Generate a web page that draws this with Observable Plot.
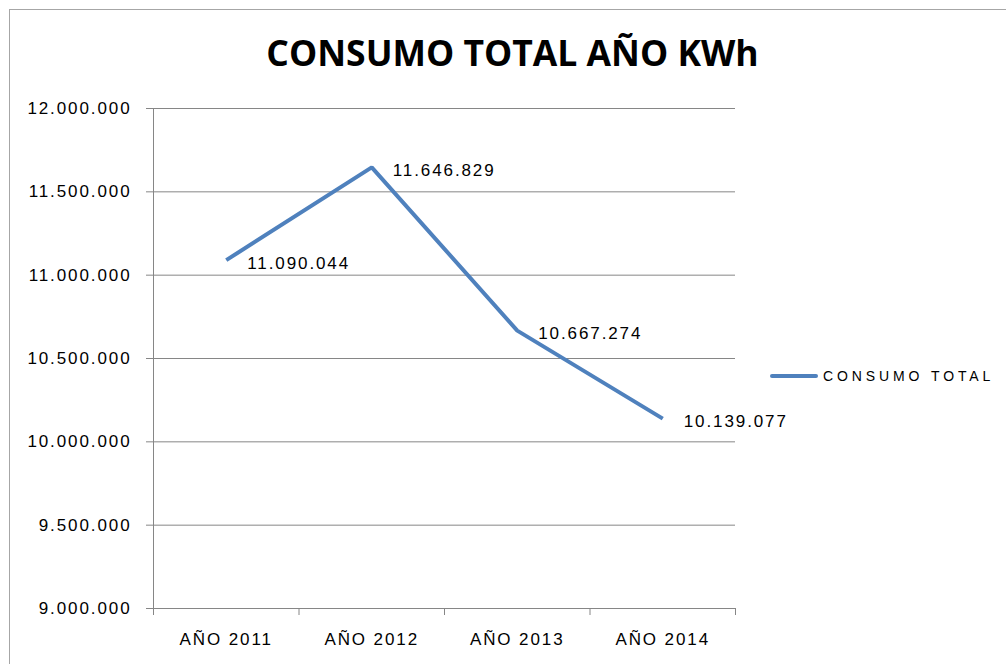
<!DOCTYPE html>
<html>
<head>
<meta charset="utf-8">
<script src="https://cdn.jsdelivr.net/npm/d3@7"></script>
<script src="https://cdn.jsdelivr.net/npm/@observablehq/plot@0.6"></script>
<style>
  html, body { margin: 0; padding: 0; background: #fff; }
  #wrap { position: relative; width: 1006px; height: 664px; overflow: hidden; background: #fff; }
  #frame { position: absolute; left: 9px; top: 9px; width: 1100px; height: 700px; border-left: 1px solid #a6a6a6; border-top: 1px solid #a6a6a6; }
  #title { position: absolute; left: 0; top: 27px; width: 1025px; text-align: center; font-family: "Open Sans", sans-serif; font-weight: 700; font-size: 35.5px; line-height: 50px; color: #000; }
  #chart { position: absolute; left: 0; top: 0; }
  #legend { position: absolute; left: 770px; top: 364px; height: 24px; display: flex; align-items: center; }
  #legend .swatch { width: 48px; height: 4px; background: #4F81BD; border-radius: 2px; margin-right: 5px; }
  #legend .lab { font-family: "Liberation Sans", Arial, sans-serif; font-size: 14px; letter-spacing: 3.9px; color: #000; }
</style>
</head>
<body>
<div id="wrap">
  <div id="frame"></div>
  <div id="chart"></div>
  <div id="title">CONSUMO TOTAL AÑO KWh</div>
  <div id="legend"><div class="swatch"></div><div class="lab" id="legendLabel"></div></div>
</div>
<script>
const categories = ["AÑO 2011", "AÑO 2012", "AÑO 2013", "AÑO 2014"];
const values = [11090044, 11646829, 10667274, 10139077];
const seriesName = "CONSUMO TOTAL";
const yTicks = [9000000, 9500000, 10000000, 10500000, 11000000, 11500000, 12000000];

const locale = d3.formatLocale({decimal: ",", thousands: ".", grouping: [3], currency: ["", ""]});
const fmt = locale.format(",d");

const data = categories.map((c, i) => ({i, category: c, value: values[i]}));
const boundaries = d3.range(categories.length + 1);
const centers = categories.map((c, i) => i + 0.5);

const chart = Plot.plot({
  width: 1006,
  height: 664,
  marginTop: 108,
  marginBottom: 56,
  marginLeft: 153,
  marginRight: 271,
  style: {fontFamily: "'Liberation Sans', Arial, sans-serif", fontSize: "17px", letterSpacing: "1.9px", color: "#000", background: "transparent"},
  x: {type: "linear", domain: [0, categories.length]},
  y: {domain: [9000000, 12000000]},
  marks: [
    Plot.gridY(yTicks, {stroke: "#868686", strokeOpacity: 1, strokeWidth: 1}),
    Plot.ruleX([0], {stroke: "#868686", strokeWidth: 1}),
    Plot.axisY({ticks: yTicks, tickFormat: fmt, tickSize: 7, tickPadding: 15, stroke: "#868686", strokeOpacity: 1, fill: "#000", label: null}),
    Plot.axisX({ticks: boundaries, tickFormat: () => "", tickSize: 7, stroke: "#868686", strokeOpacity: 1, label: null}),
    Plot.axisX({ticks: centers, tickFormat: v => categories[Math.floor(v)], tickSize: 0, tickPadding: 24, fill: "#000", label: null}),
    Plot.line(data, {x: d => d.i + 0.5, y: "value", stroke: "#4F81BD", strokeWidth: 4, strokeLinejoin: "miter", strokeLinecap: "butt"}),
    Plot.text(data, {x: d => d.i + 0.5, y: "value", text: d => fmt(d.value), textAnchor: "start", dx: 21, dy: 3, fill: "#000"})
  ]
});
document.getElementById("chart").appendChild(chart);
document.getElementById("legendLabel").textContent = seriesName;
</script>
</body>
</html>
